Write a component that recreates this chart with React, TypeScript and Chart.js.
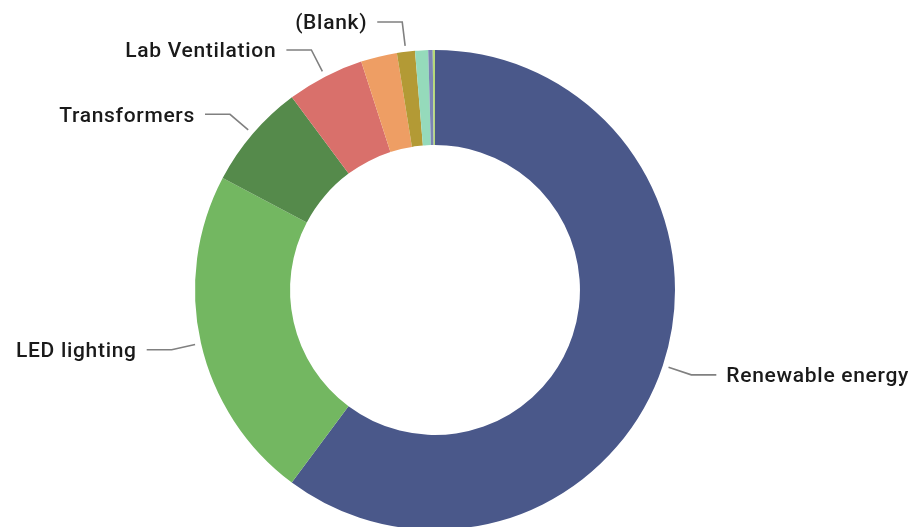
import React, { useEffect, useRef } from "react";
import { Chart, registerables } from "chart.js";

Chart.register(...registerables);

const categories = [
  "Renewable energy",
  "LED lighting",
  "Transformers",
  "Lab Ventilation",
  "Other 1",
  "(Blank)",
  "Other 2",
  "Other 3",
  "Other 4",
];
const values = [60.14, 22.53, 7.11, 5.19, 2.43, 1.21, 0.88, 0.3, 0.15];
const showLabel = [true, true, true, true, false, true, false, false, false];
const colors = [
  "#4A588A",
  "#73B761",
  "#558A4B",
  "#D9706B",
  "#EE9E64",
  "#B39A35",
  "#95DABB",
  "#7B84B4",
  "#B5D97A",
];

const labelPlugin = {
  id: "leaderLabels",
  afterDatasetsDraw(chart: any) {
    const ctx = chart.ctx;
    const meta = chart.getDatasetMeta(0);
    ctx.save();
    ctx.font = "500 21px Roboto";
    try {
      (ctx as any).letterSpacing = "0.7px";
    } catch (e) {}
    ctx.textBaseline = "middle";
    meta.data.forEach((arc: any, i: number) => {
      if (!showLabel[i]) return;
      const { x, y, startAngle, endAngle, outerRadius } = arc.getProps(
        ["x", "y", "startAngle", "endAngle", "outerRadius"],
        true
      );
      const mid = (startAngle + endAngle) / 2;
      const c = Math.cos(mid);
      const s = Math.sin(mid);
      const r0 = outerRadius + 6;
      const r1 = outerRadius + 30;
      const x0 = x + c * r0;
      const y0 = y + s * r0;
      const x1 = x + c * r1;
      const y1 = y + s * r1;
      const dir = c >= 0 ? 1 : -1;
      const x2 = x1 + dir * 25;
      ctx.strokeStyle = "#808080";
      ctx.lineWidth = 1.6;
      ctx.beginPath();
      ctx.moveTo(x0, y0);
      ctx.lineTo(x1, y1);
      ctx.lineTo(x2, y1);
      ctx.stroke();
      ctx.fillStyle = "#1a1a1a";
      ctx.textAlign = dir > 0 ? "left" : "right";
      ctx.fillText(categories[i], x2 + dir * 10, y1 + 2);
    });
    ctx.restore();
  },
};

export default function App() {
  const ref = useRef<HTMLCanvasElement | null>(null);
  useEffect(() => {
    if (!ref.current) return;
    const chart = new Chart(ref.current, {
      type: "doughnut",
      data: {
        labels: categories,
        datasets: [
          {
            data: values,
            backgroundColor: colors,
            borderWidth: 0,
          },
        ],
      },
      options: {
        responsive: false,
        animation: false,
        cutout: "60.4%",
        layout: { padding: { top: 50, bottom: 10, left: 0, right: 44 } },
        plugins: {
          legend: { display: false },
          tooltip: { enabled: false },
        },
      },
      plugins: [labelPlugin],
    });
    return () => chart.destroy();
  }, []);
  return (
    <div
      style={{
        position: "fixed",
        left: 0,
        top: 0,
        width: 914,
        height: 527,
        overflow: "hidden",
        background: "#ffffff",
      }}
    >
      <canvas ref={ref} width={914} height={540} style={{ width: 914, height: 540 }} />
    </div>
  );
}
